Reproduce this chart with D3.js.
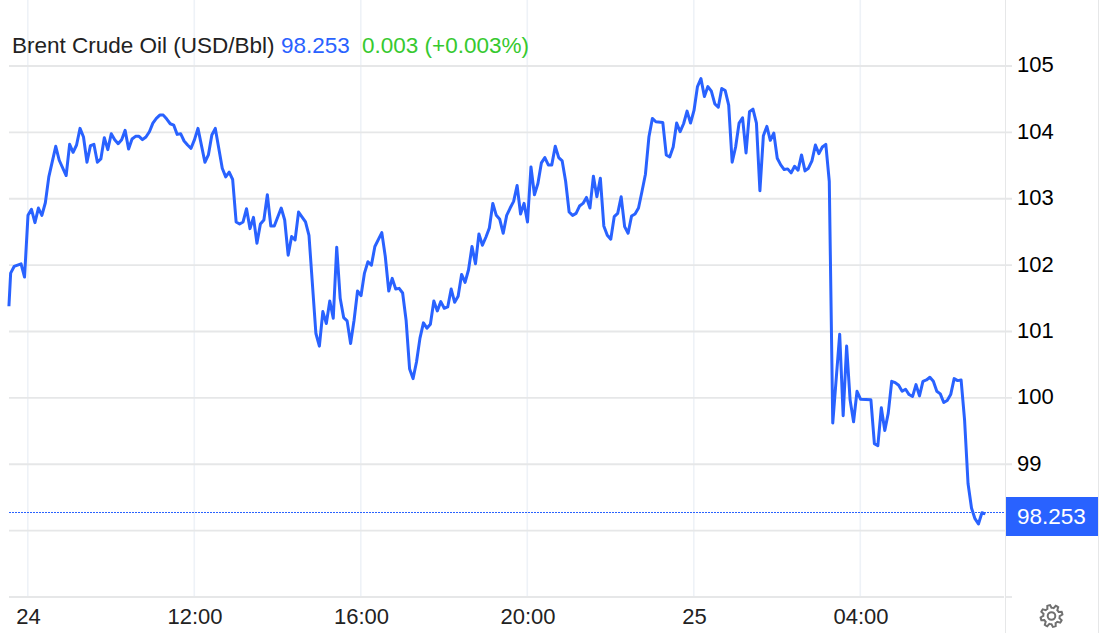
<!DOCTYPE html>
<html>
<head>
<meta charset="utf-8">
<script src="https://cdn.jsdelivr.net/npm/d3@7"></script>
<style>
  html, body { margin: 0; padding: 0; background: #fff; }
  svg { display: block; font-family: "Liberation Sans", Arial, sans-serif; }
</style>
</head>
<body>
<svg id="chart" width="1099" height="633"></svg>
<script>
// 5 minute slots counted from 08:00 on the 24th
const slots = [-5.5,-5,-4,-3,-2,-1,0,1,2,3,4,5,6,8,9,11,12,13,14,15,16,17,18,19,20,21,22,23,24,25,26,27,28,29,
  30,31,32,33,34,35,36,37,38,39,40,41,42,43,44,45,46,47,48,49,51,52,53,54,56,57,58,59,60,61,62,63,64,65,66,67,68,69,
  70,71,73,74,75,76,77,78,80,81,83,84,85,86,87,88,89,90,91,92,93,94,95,96,97,98,99,100,102,103,104,105,106,107,108,109,
  110,111,112,113,114,115,116,117,118,119,120,121,122,123,124,125,126,127,128,129,130,131,132,133,134,135,136,137,138,139,
  140,141,142,143,144,145,146,147,148,149,150,151,152,153,154,155,156,157,158,159,160,161,162,163,164,165,166,167,168,169,
  170,171,172,173,174,175,176,177,178,179,180,181,183,184,185,186,187,188,189,190,191,192,193,194,195,196,197,198,199,
  200,201,202,203,204,205,206,207,208,209,210,211,212,213,214,215,216,217,218,219,220,221,222,223,224,225,226,227,228,229,
  230,231,232,234,235,236,237,238,239,240,243,244,245,246,247,248,249,250,251,252,253,254,255,256,257,258,259,
  260,261,262,263,264,265,266,267,268,269,270,271,272,273,274,275,276];

const prices = [101.38,101.88,101.98,102.00,102.02,101.82,102.75,102.84,102.64,102.86,102.75,102.94,103.33,103.79,103.58,103.35,103.82,103.70,103.81,104.06,103.93,103.55,103.80,103.82,103.55,103.60,103.92,103.74,103.98,103.89,103.83,103.89,104.03,103.75,
  103.90,103.94,103.94,103.89,103.93,104.01,104.14,104.21,104.26,104.26,104.20,104.13,104.11,103.97,103.98,103.87,103.81,103.76,103.89,104.06,103.55,103.66,103.96,104.06,103.46,103.33,103.40,103.29,102.65,102.62,102.65,102.85,102.55,102.72,102.33,102.62,102.68,103.06,
  102.59,102.59,102.86,102.68,102.15,102.43,102.38,102.80,102.65,102.45,100.97,100.78,101.30,101.12,101.46,101.20,102.27,101.50,101.21,101.16,100.82,101.17,101.61,101.54,101.88,102.05,102.00,102.28,102.49,102.13,101.61,101.80,101.64,101.65,101.58,101.17,
  100.44,100.29,100.54,100.90,101.13,101.05,101.11,101.46,101.31,101.45,101.35,101.37,101.64,101.44,101.53,101.86,101.74,101.93,102.28,102.02,102.47,102.30,102.42,102.56,102.93,102.75,102.69,102.48,102.75,102.86,
  102.96,103.20,102.77,102.93,102.65,103.48,103.06,103.23,103.54,103.62,103.51,103.51,103.79,103.62,103.57,103.26,102.80,102.75,102.78,102.89,102.93,103.02,102.86,103.34,103.03,103.31,102.59,102.45,102.39,102.73,
  102.78,103.03,102.58,102.48,102.74,102.77,102.86,103.11,103.37,103.93,104.21,104.16,104.15,103.66,103.63,103.78,104.14,104.01,104.13,104.32,104.14,104.33,104.69,104.81,104.54,104.69,104.62,104.43,104.38,
  104.66,104.63,104.41,103.55,103.78,104.14,104.22,103.69,104.31,104.35,104.14,103.12,103.95,104.09,103.88,103.99,103.61,103.51,103.44,103.45,103.39,103.49,103.43,103.66,103.42,103.46,103.57,103.81,103.68,103.78,
  103.82,103.26,99.62,100.96,99.73,100.78,99.97,99.64,100.10,99.98,99.97,99.31,99.28,99.85,99.51,99.77,100.25,100.23,100.19,100.10,100.13,100.05,100.02,100.20,100.03,100.25,100.27,
  100.31,100.25,100.10,100.06,99.93,99.96,100.05,100.29,100.26,100.27,99.67,98.71,98.34,98.18,98.10,98.27,98.253];

const gridTicks = [98, 99, 100, 101, 102, 103, 104, 105];
// the 98 label sits under the last price badge, so it is not drawn
const priceLabels = [99, 100, 101, 102, 103, 104, 105];
const timeTicks = [0, 48, 96, 144, 192, 240];
const timeLabels = ['24', '12:00', '16:00', '20:00', '25', '04:00'];

const titleText = 'Brent Crude Oil (USD/Bbl)';
const lastText = '98.253';
const changeText = '0.003 (+0.003%)';

const blue = '#2962ff';
const green = '#36c92f';
const gridColor = '#e6e7e8';
const vGridColor = '#eef2f7';

const left = 9, right = 1005, bottom = 597;

const svg = d3.select('#chart');

const x = d3.scaleLinear().domain([0, 240]).range([28, 860.5]);
const y = d3.scaleLinear().domain([97, 105]).range([bottom, 66]);

// vertical grid
svg.append('g')
  .selectAll('line')
  .data(timeTicks)
  .join('line')
  .attr('x1', d => x(d) - 0.2)
  .attr('x2', d => x(d) - 0.2)
  .attr('y1', 0)
  .attr('y2', bottom)
  .attr('stroke', vGridColor)
  .attr('stroke-width', 1.6);

// horizontal grid
svg.append('g')
  .selectAll('line')
  .data(gridTicks)
  .join('line')
  .attr('x1', left)
  .attr('x2', 1012)
  .attr('y1', d => y(d))
  .attr('y2', d => y(d))
  .attr('stroke', gridColor)
  .attr('stroke-width', 1.8);

// baseline
svg.append('line')
  .attr('x1', left).attr('x2', 1004)
  .attr('y1', bottom).attr('y2', bottom)
  .attr('stroke', gridColor).attr('stroke-width', 1.8);
svg.append('line')
  .attr('x1', 1006).attr('x2', 1012)
  .attr('y1', bottom).attr('y2', bottom)
  .attr('stroke', gridColor).attr('stroke-width', 1.8);

// axis rails
svg.append('line')
  .attr('x1', right + 0.5).attr('x2', right + 0.5)
  .attr('y1', 0).attr('y2', 633)
  .attr('stroke', gridColor);
svg.append('line')
  .attr('x1', 1098.5).attr('x2', 1098.5)
  .attr('y1', 0).attr('y2', 633)
  .attr('stroke', gridColor);

// price labels
const yAxis = d3.axisRight(y)
  .tickValues(priceLabels)
  .tickSize(0)
  .tickPadding(0)
  .tickFormat(d3.format('d'));
const yAxisG = svg.append('g')
  .attr('transform', 'translate(1017,0)')
  .call(yAxis);
yAxisG.select('.domain').remove();
yAxisG.selectAll('text')
  .attr('font-size', 22)
  .attr('font-family', '"Liberation Sans", Arial, sans-serif')
  .attr('fill', '#000')
  .attr('dy', '0.27em');

// time labels
const xAxis = d3.axisBottom(x)
  .tickValues(timeTicks)
  .tickSize(0)
  .tickPadding(0)
  .tickFormat((d, i) => timeLabels[i]);
const xAxisG = svg.append('g')
  .attr('transform', 'translate(0,608)')
  .call(xAxis);
xAxisG.select('.domain').remove();
xAxisG.selectAll('text')
  .attr('font-size', 22)
  .attr('font-family', '"Liberation Sans", Arial, sans-serif')
  .attr('fill', '#222');

// last price line
const lastPrice = prices[prices.length - 1];
svg.append('line')
  .attr('x1', left).attr('x2', right)
  .attr('y1', 512.5).attr('y2', 512.5)
  .attr('stroke', blue)
  .attr('stroke-dasharray', '2 1');

// price line
const line = d3.line()
  .x((d, i) => x(slots[i]))
  .y(d => y(d));

svg.append('path')
  .datum(prices)
  .attr('d', line)
  .attr('fill', 'none')
  .attr('stroke', blue)
  .attr('stroke-width', 3)
  .attr('stroke-linejoin', 'round');

// last price badge
svg.append('rect')
  .attr('x', 1006).attr('y', 497)
  .attr('width', 92).attr('height', 39)
  .attr('fill', blue);
svg.append('text')
  .attr('x', 1017).attr('y', 524)
  .attr('font-size', 22.5)
  .attr('fill', '#fff')
  .text(d3.format('.3f')(lastPrice));

// title row
const title = svg.append('text')
  .attr('x', 12).attr('y', 53)
  .attr('font-size', 22.5)
  .attr('fill', '#222');
title.append('tspan').text(titleText);
title.append('tspan').attr('x', 281).attr('fill', blue).text(lastText);
title.append('tspan').attr('x', 362).attr('fill', green).text(changeText);

// settings gear
const teeth = d3.range(48).map(i => {
  const a = i / 48 * 2 * Math.PI;
  const phase = ((i + 3) % 6);
  return [a, phase < 3 ? 11 : 8.2];
});
const gear = svg.append('g').attr('transform', 'translate(1051.5,616)')
  .attr('fill', 'none').attr('stroke', '#707070').attr('stroke-width', 2);
gear.append('path').attr('d', d3.lineRadial().curve(d3.curveLinearClosed)(teeth));
gear.append('circle').attr('r', 3.8);
</script>
</body>
</html>
